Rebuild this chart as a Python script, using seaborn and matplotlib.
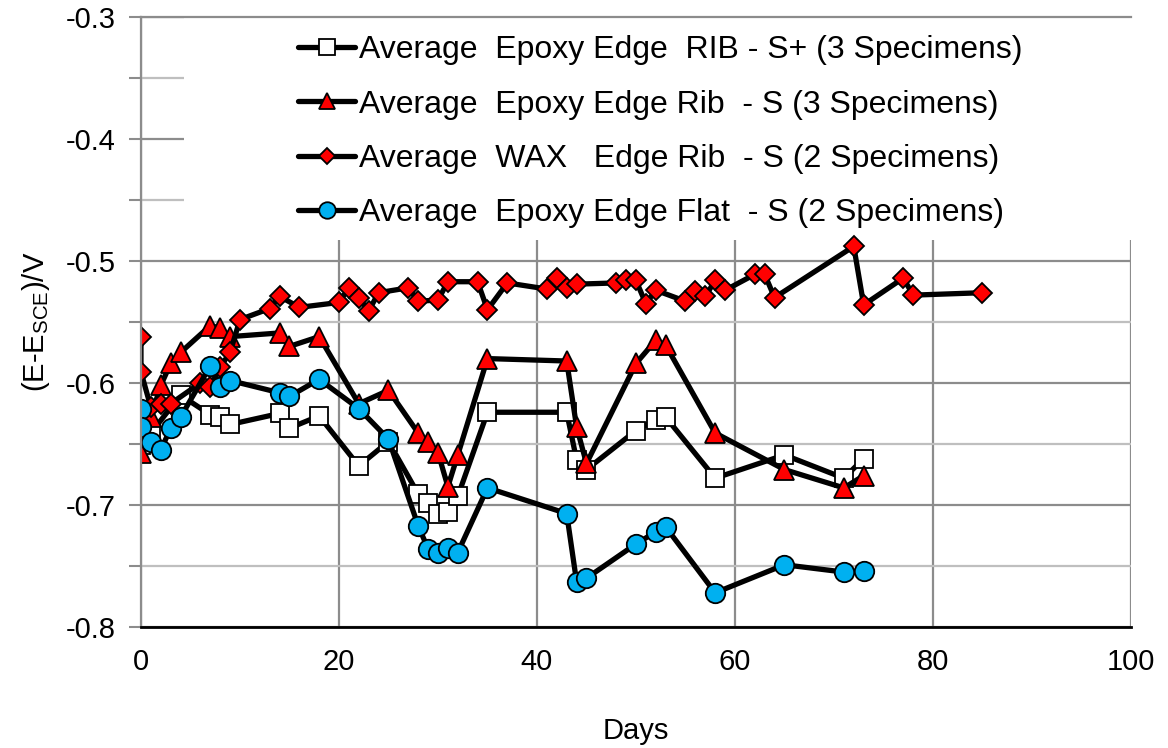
import matplotlib
matplotlib.use("Agg")
import matplotlib.pyplot as plt
import seaborn as sns
from matplotlib.ticker import MultipleLocator
from matplotlib.patches import Rectangle

# Datos
sq_days = [0, 1, 4, 7, 8, 9, 14, 15, 18, 22, 25, 28, 29, 30, 31, 32, 35, 43, 44, 45,
           50, 52, 53, 58, 65, 71, 73]
sq_vals = [-0.651, -0.641, -0.610, -0.626, -0.628, -0.634, -0.625, -0.637, -0.627, -0.668,
           -0.648, -0.691, -0.698, -0.707, -0.706, -0.693, -0.624, -0.624, -0.663, -0.671,
           -0.639, -0.630, -0.628, -0.678, -0.659, -0.678, -0.662]

tri_days = [0, 1, 2, 3, 4, 7, 8, 9, 14, 15, 18, 22, 25, 28, 29, 30, 31, 32, 35, 43, 44, 45,
            50, 52, 53, 58, 65, 71, 73]
tri_vals = [-0.657, -0.628, -0.602, -0.584, -0.575, -0.553, -0.555, -0.562, -0.559, -0.570,
            -0.562, -0.617, -0.606, -0.641, -0.648, -0.657, -0.685, -0.659, -0.580, -0.582,
            -0.636, -0.666, -0.584, -0.565, -0.569, -0.641, -0.671, -0.686, -0.676]

dia_days = [0, 0, 1, 2, 3, 6, 7, 8, 9, 10, 13, 14, 16, 20, 21, 22, 23, 24, 27, 28, 30, 31,
            34, 35, 37, 41, 42, 43, 44, 48, 49, 50, 51, 52, 55, 56, 57, 58, 59, 62, 63, 64,
            72, 73, 77, 78, 85]
dia_vals = [-0.562, -0.591, -0.620, -0.617, -0.617, -0.600, -0.603, -0.587, -0.575, -0.548,
            -0.539, -0.529, -0.538, -0.534, -0.522, -0.530, -0.541, -0.526, -0.522, -0.533,
            -0.532, -0.517, -0.517, -0.540, -0.518, -0.523, -0.514, -0.522, -0.519, -0.518,
            -0.516, -0.516, -0.535, -0.524, -0.533, -0.525, -0.529, -0.516, -0.524, -0.511,
            -0.511, -0.530, -0.488, -0.536, -0.514, -0.528, -0.526]

cir_days = [0, 0, 1, 2, 3, 4, 7, 8, 9, 14, 15, 18, 22, 25, 28, 29, 30, 31, 32, 35, 43, 44,
            45, 50, 52, 53, 58, 65, 71, 73]
cir_vals = [-0.621, -0.636, -0.648, -0.655, -0.637, -0.628, -0.586, -0.603, -0.598, -0.608,
            -0.611, -0.597, -0.621, -0.646, -0.717, -0.736, -0.739, -0.735, -0.739, -0.686,
            -0.707, -0.763, -0.760, -0.732, -0.722, -0.718, -0.772, -0.749, -0.755, -0.754]

labels = ["Average  Epoxy Edge  RIB - S+ (3 Specimens)",
          "Average  Epoxy Edge Rib  - S (3 Specimens)",
          "Average  WAX   Edge Rib  - S (2 Specimens)",
          "Average  Epoxy Edge Flat  - S (2 Specimens)"]

sns.set_style("white")
plt.rcParams["font.family"] = ["Liberation Sans", "DejaVu Sans"]
plt.rcParams["mathtext.fontset"] = "custom"
plt.rcParams["mathtext.rm"] = "Liberation Sans"
plt.rcParams["text.color"] = "black"
plt.rcParams["axes.labelcolor"] = "black"

fig = plt.figure(figsize=(11.68, 7.48), dpi=100)
ax = fig.add_axes([0.1207, 0.1618, 0.8476, 0.8155])

series = [
    (sq_days, sq_vals, "s", "white", 13),
    (tri_days, tri_vals, "^", "#FF0000", 14),
    (dia_days, dia_vals, "D", "#FF0000", 10),
    (cir_days, cir_vals, "o", "#00B0F0", 14),
]
for (d, v, m, c, ms), lab in zip(series, labels):
    sns.lineplot(x=d, y=v, ax=ax, sort=False, estimator=None, color="black", lw=3.8,
                 marker=m, markersize=ms, markerfacecolor=c, markeredgecolor="black",
                 markeredgewidth=1.3, label=lab)

ax.set_xlim(0, 100)
ax.set_ylim(-0.8, -0.3)
ax.xaxis.set_major_locator(MultipleLocator(20))
ax.yaxis.set_minor_locator(MultipleLocator(0.05))
ax.set_yticks([-0.8, -0.7, -0.6, -0.5, -0.4, -0.3])
ax.set_yticklabels(["-0.8", "-0.7", "-0.6", "-0.5", "-0.4", "-0.3"])

ax.grid(which="major", color="#8c8c8c", lw=1.6)
ax.grid(which="minor", axis="y", color="#bfbfbf", lw=1.6)
ax.set_axisbelow(True)

# fondo blanco de la leyenda (tapa la rejilla)
ax.add_patch(Rectangle((0.043, 0.634), 0.957, 0.366, transform=ax.transAxes,
                       facecolor="white", edgecolor="none", zorder=1))

for s in ["left", "top"]:
    ax.spines[s].set_color("#8c8c8c")
    ax.spines[s].set_linewidth(1.6)
ax.spines["right"].set_visible(False)
ax.spines["bottom"].set_color("black")
ax.spines["bottom"].set_linewidth(2)

ax.tick_params(axis="y", which="both", direction="out", length=9, width=1.5,
               color="#8c8c8c", labelcolor="black", labelsize=21, pad=9, left=True)
ax.tick_params(axis="x", length=0, labelsize=21, pad=15, labelcolor="black")

ax.set_xlabel("Days", fontsize=21, labelpad=30)
ax.set_ylabel(r"(E-E$_{\mathrm{SCE}}$)/V", fontsize=21, labelpad=10)

leg = ax.legend(loc="upper left", bbox_to_anchor=(0.1586, 0.970), fontsize=23,
                frameon=False, handlelength=1.8, handletextpad=0.1, labelspacing=0.76,
                borderpad=0, borderaxespad=0, markerscale=0.85)

fig.savefig("out.png", dpi=100)
